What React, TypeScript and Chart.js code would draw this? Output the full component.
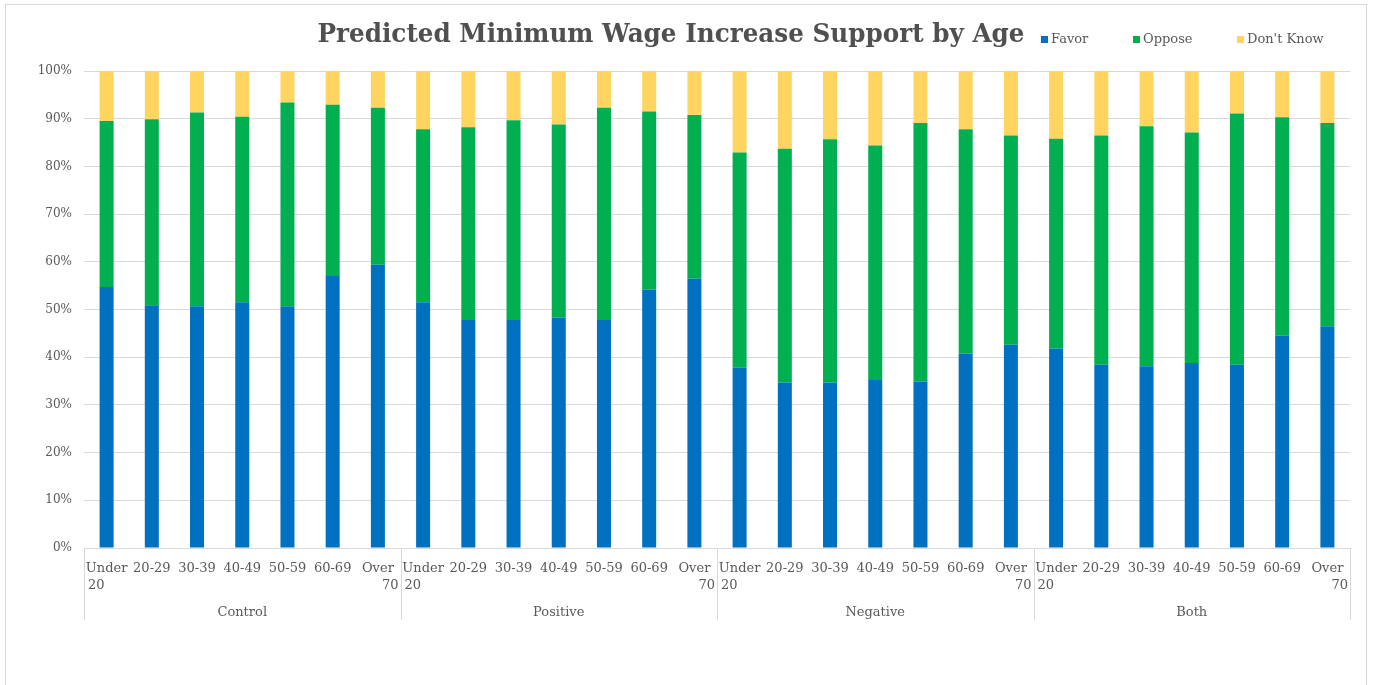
import React, { useEffect, useRef } from "react";
import { Chart, registerables } from "chart.js";

Chart.register(...registerables);

const groups = ["Control", "Positive", "Negative", "Both"];
const ageGroups = ["Under 20", "20-29", "30-39", "40-49", "50-59", "60-69", "Over 70"];
const yTicks = [0, 10, 20, 30, 40, 50, 60, 70, 80, 90, 100];

const favorValues = [
  54.7, 50.9, 50.7, 51.5, 50.7, 57.0, 59.4,
  51.5, 47.8, 47.8, 48.3, 47.8, 54.2, 56.5,
  37.8, 34.7, 34.7, 35.2, 34.9, 40.8, 42.6,
  41.8, 38.4, 38.1, 38.8, 38.4, 44.5, 46.5,
];
const opposeValues = [
  34.8, 39.0, 40.6, 38.9, 42.7, 35.9, 32.9,
  36.3, 40.4, 41.9, 40.5, 44.5, 37.3, 34.3,
  45.1, 49.0, 51.0, 49.2, 54.2, 47.0, 43.9,
  44.0, 48.1, 50.3, 48.3, 52.7, 45.8, 42.6,
];
const dontKnowValues = [
  10.5, 10.1, 8.7, 9.6, 6.6, 7.1, 7.7,
  12.2, 11.8, 10.3, 11.2, 7.7, 8.5, 9.2,
  17.1, 16.3, 14.3, 15.6, 10.9, 12.2, 13.5,
  14.2, 13.5, 11.6, 12.9, 8.9, 9.7, 10.9,
];

const seriesNames = ["Favor", "Oppose", "Don't Know"];
const seriesColors = ["#0070C0", "#00B050", "#FFD45F"];
const titleText = "Predicted Minimum Wage Increase Support by Age";

const labels: string[] = [];
groups.forEach(() => ageGroups.forEach((a) => labels.push(a)));

const TEXT = "#595959";
const LINE = "#d9d9d9";
const SERIF = "'DejaVu Serif', serif";

const overlayPlugin = {
  id: "overlay",
  afterDraw(chart: any) {
    const ctx = chart.ctx;
    const xs = chart.scales.x;
    const area = chart.chartArea;
    const n = labels.length;
    const cw = (xs.getPixelForValue(n - 1) - xs.getPixelForValue(0)) / (n - 1);
    ctx.save();
    // group separators
    ctx.strokeStyle = LINE;
    ctx.lineWidth = 1;
    for (let g = 0; g <= groups.length; g++) {
      const idx = g * ageGroups.length;
      const x = Math.round(xs.getPixelForValue(0) - cw / 2 + idx * cw) + 0.5;
      ctx.beginPath();
      ctx.moveTo(x, area.bottom);
      ctx.lineTo(x, area.bottom + 72);
      ctx.stroke();
    }
    // group labels
    ctx.fillStyle = TEXT;
    ctx.font = `13px ${SERIF}`;
    ctx.textAlign = "center";
    ctx.textBaseline = "middle";
    groups.forEach((g, i) => {
      const start = xs.getPixelForValue(i * ageGroups.length) - cw / 2;
      const cx = start + (ageGroups.length * cw) / 2;
      ctx.fillText(g, cx, area.bottom + 65);
    });
    // title
    ctx.font = `bold 26px ${SERIF}`;
    ctx.fillStyle = "#505050";
    ctx.textAlign = "center";
    ctx.fillText(titleText, 671, 35, 707);
    // legend
    const legendX = [1041, 1133, 1237];
    ctx.font = `13px ${SERIF}`;
    ctx.textAlign = "left";
    seriesNames.forEach((name, i) => {
      ctx.fillStyle = seriesColors[i];
      ctx.fillRect(legendX[i], 36, 7, 7);
      ctx.fillStyle = TEXT;
      ctx.fillText(name, legendX[i] + 10, 40);
    });
    ctx.restore();
  },
};

export default function App() {
  const ref = useRef<HTMLCanvasElement | null>(null);
  useEffect(() => {
    if (!ref.current) return;
    const chart = new Chart(ref.current, {
      type: "bar",
      data: {
        labels,
        datasets: [
          { label: seriesNames[0], data: favorValues, backgroundColor: seriesColors[0] },
          { label: seriesNames[1], data: opposeValues, backgroundColor: seriesColors[1] },
          { label: seriesNames[2], data: dontKnowValues, backgroundColor: seriesColors[2] },
        ],
      },
      options: {
        responsive: false,
        animation: false,
        devicePixelRatio: 1,
        layout: { padding: { left: 0, right: 23, top: 71, bottom: 0 } },
        datasets: { bar: { barPercentage: 1, categoryPercentage: 0.31 } },
        plugins: { legend: { display: false }, title: { display: false }, tooltip: { enabled: false } },
        scales: {
          x: {
            stacked: true,
            grid: { display: false, drawTicks: false },
            border: { display: true, color: LINE, width: 1 },
            afterFit: (s: any) => { s.height = 137; },
            ticks: {
              autoSkip: false,
              maxRotation: 0,
              minRotation: 0,
              padding: 12,
              color: TEXT,
              font: { family: SERIF, size: 13, lineHeight: 1.3 },
              callback: (_v: any, i: number) => {
                const l = labels[i];
                if (l === "Under 20") return ["Under", "20     "];
                if (l === "Over 70") return ["Over", "      70"];
                return l;
              },
            },
          },
          y: {
            stacked: true,
            min: 0,
            max: 100,
            afterFit: (s: any) => { s.width = 84; },
            afterBuildTicks: (s: any) => { s.ticks = yTicks.map((v) => ({ value: v })); },
            grid: { color: LINE, lineWidth: 1, drawTicks: false },
            border: { display: false },
            ticks: {
              padding: 12,
              color: TEXT,
              font: { family: SERIF, size: 12 },
              callback: (v: any) => `${v}%`,
            },
          },
        },
      },
      plugins: [overlayPlugin],
    });
    return () => chart.destroy();
  }, []);
  return (
    <div style={{ position: "fixed", left: 0, top: 0, width: 1373, height: 685, background: "#fff", overflow: "hidden" }}>
      <div style={{ position: "absolute", left: 5, top: 4, width: 1362, height: 700, border: "1px solid #d9d9d9", boxSizing: "border-box" }} />
      <canvas ref={ref} width={1373} height={685} style={{ position: "absolute", left: 0, top: 0 }} />
    </div>
  );
}
